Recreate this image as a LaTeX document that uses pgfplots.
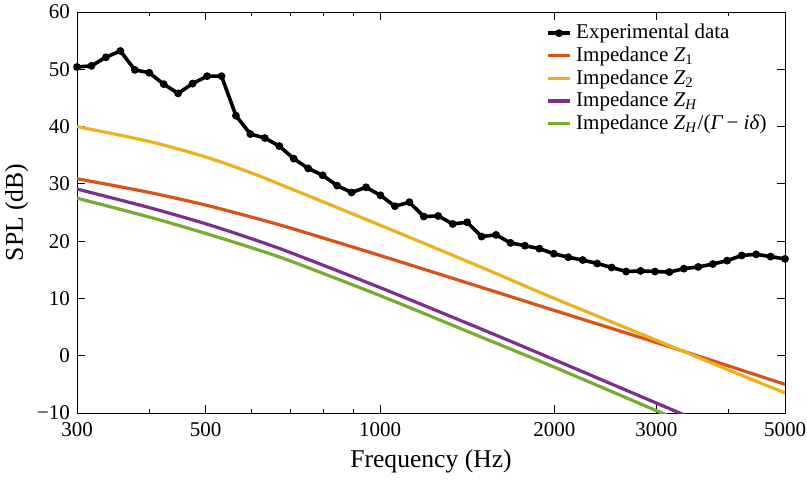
\documentclass[border=0pt]{standalone}
\usepackage{fontspec}
\setmainfont{Liberation Serif}
\usepackage{pgfplots}
\pgfplotsset{compat=1.18}
\definecolor{cOr}{rgb}{0.85,0.325,0.098}
\definecolor{cYe}{rgb}{0.929,0.694,0.125}
\definecolor{cPu}{rgb}{0.494,0.184,0.556}
\definecolor{cGr}{rgb}{0.466,0.674,0.188}
\begin{document}
\begin{tikzpicture}
\begin{axis}[
  name=ax,
  at={(0,0)}, anchor=south west,
  scale only axis,
  width=354pt, height=200.5pt,
  xmode=log,
  xmin=300, xmax=5000,
  ymin=-10, ymax=60,
  xtick={300,500,1000,2000,3000,5000},
  xticklabels={300,500,1000,2000,3000,5000},
  minor xtick={400,600,700,800,900,4000},
  ytick={-10,0,10,20,30,40,50,60},
  yticklabels={−10,0,10,20,30,40,50,60},
  tick align=inside,
  major tick length=3.8pt,
  minor tick length=2.2pt,
  tick style={black, line width=0.5pt},
  axis line style={black, line width=0.5pt},
  ticklabel style={font=\fontsize{10.5}{12}\selectfont},
  xticklabel style={yshift=-1pt},
  xlabel={Frequency (Hz)},
  ylabel={SPL (dB)},
  ylabel shift=-2.5pt,
  label style={font=\fontsize{12.8}{14}\selectfont},
  legend style={at={(0.983,0.985)}, anchor=north east, draw=none, fill=none,
    font=\fontsize{10.5}{12}\selectfont, row sep=-1.5pt, inner sep=1pt},
  legend cell align=left,
  legend image code/.code={\draw[mark repeat=2,mark phase=2,#1] plot coordinates {(0cm,0cm) (0.2cm,0cm) (0.4cm,0cm)};},
]
\addplot[black, line width=1.8pt, mark=*, mark size=1.0pt] coordinates {
(300,50.4)(317.7,50.6)(336.5,52.1)(356.4,53.2)(377.5,49.9)(399.8,49.4)(423.4,47.4)(448.4,45.8)(474.9,47.5)(503.0,48.8)
(532.7,48.8)(564.2,41.9)(597.5,38.7)(632.8,38.0)(670.2,36.6)(709.8,34.4)(751.8,32.7)(796.2,31.5)(843.3,29.7)(893.1,28.5)
(945.9,29.4)(1001.8,28.0)(1061.0,26.1)(1123.7,26.8)(1190.1,24.3)(1260.5,24.4)(1334.9,23.0)(1413.8,23.3)(1497.4,20.8)(1585.9,21.1)
(1679.6,19.7)(1778.9,19.2)(1884.0,18.7)(1995.3,17.8)(2113.3,17.2)(2238.2,16.7)(2370.4,16.1)(2510.5,15.4)(2658.9,14.7)(2816.0,14.8)
(2982.5,14.7)(3158.7,14.6)(3345.4,15.2)(3543.1,15.5)(3752.5,16.0)(3974.3,16.6)(4209.2,17.5)(4457.9,17.7)(4721.4,17.3)(5000,16.9)
};
\addlegendentry{Experimental data}
\addplot[cOr, line width=1.6pt, smooth] coordinates {
(300,30.9)(400,28.5)(500,26.3)(600,24.2)(700,22.3)(1000,17.5)(1500,11.9)(2000,7.9)(3000,2.3)(4000,-1.8)(5000,-5.0)
};
\addlegendentry{Impedance \textit{Z}\textsubscript{1}}
\addplot[cYe, line width=1.6pt, smooth] coordinates {
(300,40.0)(400,37.4)(500,34.7)(600,31.9)(700,29.2)(1000,22.8)(1500,15.4)(2000,10.0)(3000,2.7)(4000,-2.5)(5000,-6.5)
};
\addlegendentry{Impedance \textit{Z}\textsubscript{2}}
\addplot[cPu, line width=1.6pt, smooth] coordinates {
(300,29.1)(400,25.85)(500,23.04)(600,20.43)(700,18.02)(1000,11.9)(1500,4.6)(2000,-0.7)(3000,-8.27)(3500,-11.15)
};
\addlegendentry{Impedance \textit{Z}\textsubscript{\textit{H}}}
\addplot[cGr, line width=1.6pt, smooth] coordinates {
(300,27.5)(400,24.2)(500,21.35)(600,18.85)(700,16.55)(1000,10.5)(1500,3.2)(2000,-2.0)(3000,-9.6)(3500,-12.5)
};
\addlegendentry{Impedance \textit{Z}\textsubscript{\textit{H}}/(\textit{Γ}\,− \textit{iδ})}
\end{axis}
\pgfresetboundingbox
\path (-38.5pt,-33pt) rectangle (365pt,206.5pt);
\end{tikzpicture}
\end{document}
